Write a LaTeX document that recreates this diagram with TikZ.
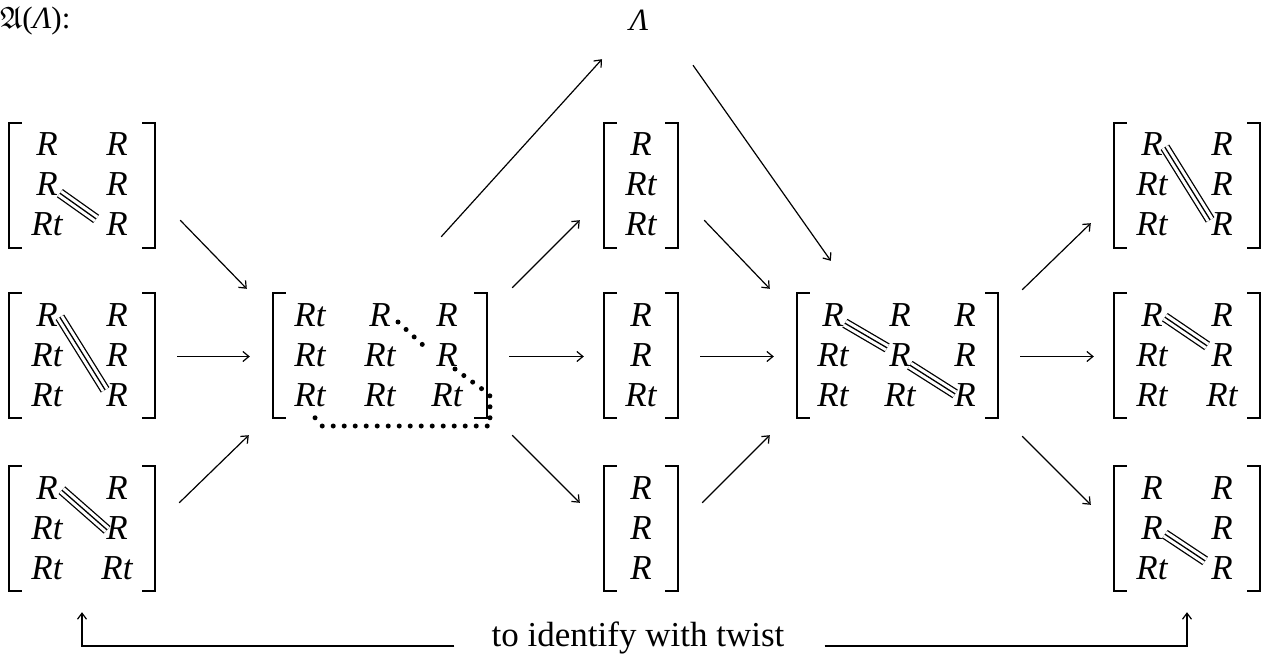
\documentclass[tikz,border=0pt]{standalone}
\usepackage{amssymb}
\usepackage{fontspec}
\setmainfont{Liberation Serif}
\usetikzlibrary{arrows.meta,calc,backgrounds}
\newcommand\entsize{\fontsize{35}{40}\selectfont}
\tikzset{
  ent/.style={inner sep=0pt, anchor=base, font=\entsize\itshape},
  mat/.style={inner sep=0pt, minimum height=125pt, draw=none},
  brk/.style={line width=1.7pt},
  arr/.style={line width=1.2pt, -{Straight Barb[length=6pt,width=10pt,line width=1.2pt]}},
  tripo/.style={line width=1.3pt, double distance=7.5pt},
  tripc/.style={line width=1.3pt},
  dotline/.style={line width=5pt, line cap=round, dash pattern=on 0pt off 11pt},
  twist/.style={line width=1.8pt, -{Straight Barb[length=6pt,width=9pt,line width=1.2pt]}},
}
\newcommand\bracketize[1]{%
  \draw[brk] ([xshift=13pt]#1.north west) -- (#1.north west) -- (#1.south west) -- ([xshift=13pt]#1.south west);
  \draw[brk] ([xshift=-13pt]#1.north east) -- (#1.north east) -- (#1.south east) -- ([xshift=-13pt]#1.south east);}
\newcommand\twocol[9]{%
  \node[mat, minimum width=146pt] (#1) at ({#2+73},{#3+62.5}) {};
  \bracketize{#1}
  \node[ent] (#1-1-1) at ({#2+38},{#3+33}) {#4};
  \node[ent] (#1-1-2) at ({#2+108},{#3+33}) {#5};
  \node[ent] (#1-2-1) at ({#2+38},{#3+73}) {#6};
  \node[ent] (#1-2-2) at ({#2+108},{#3+73}) {#7};
  \node[ent] (#1-3-1) at ({#2+38},{#3+113}) {#8};
  \node[ent] (#1-3-2) at ({#2+108},{#3+113}) {#9};}
\newcommand\onecol[6]{%
  \node[mat, minimum width=74pt] (#1) at ({#2+37},{#3+62.5}) {};
  \bracketize{#1}
  \node[ent] (#1-1-1) at ({#2+37},{#3+33}) {#4};
  \node[ent] (#1-2-1) at ({#2+37},{#3+73}) {#5};
  \node[ent] (#1-3-1) at ({#2+37},{#3+113}) {#6};}
\newcommand\trip[2]{\draw[tripo] #1 -- #2; \draw[tripc] #1 -- #2;}
\begin{document}
\begin{tikzpicture}[x=1pt,y=-1pt]
\useasboundingbox (0,0) rectangle (1270,658);
% title and Lambda
\node[anchor=base west, inner sep=0pt, font=\fontsize{31}{34}\selectfont] (title) at (0,29) {$\mathfrak{A}$(\textit{Λ}):};
\node[anchor=base, inner sep=0pt, font=\fontsize{31}{34}\selectfont\itshape] (L) at (639,31) {Λ};
% left column
\twocol{M1}{9}{123}{R}{R}{R}{R}{Rt}{R}
\twocol{M2}{9}{293}{R}{R}{Rt}{R}{Rt}{R}
\twocol{M3}{9}{466}{R}{R}{Rt}{R}{Rt}{Rt}
% C matrix
\node[mat, minimum width=214pt] (C) at (380,355.5) {};
\bracketize{C}
\node[ent] (C-1-1) at (310,326) {Rt};
\node[ent] (C-1-2) at (380,326) {R};
\node[ent] (C-1-3) at (447,326) {R};
\node[ent] (C-2-1) at (310,366) {Rt};
\node[ent] (C-2-2) at (380,366) {Rt};
\node[ent] (C-2-3) at (447,366) {R};
\node[ent] (C-3-1) at (310,406) {Rt};
\node[ent] (C-3-2) at (380,406) {Rt};
\node[ent] (C-3-3) at (447,406) {Rt};
% middle column
\onecol{P1}{604}{123}{R}{Rt}{Rt}
\onecol{P2}{604}{293}{R}{R}{Rt}
\onecol{P3}{604}{466}{R}{R}{R}
% D matrix
\node[mat, minimum width=201pt] (D) at (897.5,355.5) {};
\bracketize{D}
\node[ent] (D-1-1) at (833,326) {R};
\node[ent] (D-1-2) at (900,326) {R};
\node[ent] (D-1-3) at (965,326) {R};
\node[ent] (D-2-1) at (833,366) {Rt};
\node[ent] (D-2-2) at (900,366) {R};
\node[ent] (D-2-3) at (965,366) {R};
\node[ent] (D-3-1) at (833,406) {Rt};
\node[ent] (D-3-2) at (900,406) {Rt};
\node[ent] (D-3-3) at (965,406) {R};
% right column
\twocol{R1}{1114}{123}{R}{R}{Rt}{R}{Rt}{R}
\twocol{R2}{1114}{293}{R}{R}{Rt}{R}{Rt}{Rt}
\twocol{R3}{1114}{466}{R}{R}{R}{R}{Rt}{R}
% triple lines
\begin{scope}[on background layer]
\trip{([xshift=2pt,yshift=3pt]M1-2-1.south east)}{([xshift=-10pt,yshift=-6pt]M1-3-2.north west)}
\trip{([xshift=2pt,yshift=9pt]M2-1-1.south east)}{([xshift=-1pt,yshift=-7pt]M2-3-2.north west)}
\trip{([xshift=4pt,yshift=9pt]M3-1-1.south east)}{([xshift=1pt,yshift=-14pt]M3-2-2.north west)}
\trip{([xshift=1pt,yshift=3pt]D-1-1.south east)}{([xshift=-2pt,yshift=-5pt]D-2-2.north west)}
\trip{([xshift=-1pt,yshift=1pt]D-2-2.south east)}{([xshift=1pt,yshift=-11pt]D-3-3.north west)}
\trip{([xshift=2pt,yshift=9pt]R1-1-1.south east)}{([xshift=-1pt,yshift=-7pt]R1-3-2.north west)}
\trip{([xshift=2pt,yshift=9pt]R2-1-1.south east)}{([xshift=-4pt,yshift=-3pt]R2-2-2.north west)}
\trip{([xshift=2pt,yshift=5pt]R3-2-1.south east)}{([xshift=-6pt,yshift=-5pt]R3-3-2.north west)}
\end{scope}
% dotted outline in C
\draw[dotline] (398,322) -- (424,346);
\draw[dotline] (455,369) -- (482,389) -- (490,396) -- (490,426) -- (322,426) -- (311,413);
% arrows
\draw[arr] ($(M1.south east)+(25,-28)$) -- ($(C.north west)+(-26,-4)$);
\draw[arr] ($(M2.east)+(22,1)$) -- ($(C.west)+(-23,1)$);
\draw[arr] ($(M3.north east)+(24,37)$) -- ($(C.south west)+(-24,17)$);
\draw[arr] ($(C.north east)+(-46,-56)$) -- ($(L.south)+(-37,28)$);
\draw[arr] ($(L.south)+(54,34)$) -- ($(D.north west)+(34,-32)$);
\draw[arr] ($(C.north east)+(25,-5)$) -- ($(P1.south west)+(-24,-28)$);
\draw[arr] ($(C.east)+(22,1)$) -- ($(P2.west)+(-20,1)$);
\draw[arr] ($(C.south east)+(25,17)$) -- ($(P3.north west)+(-24,37)$);
\draw[arr] ($(P1.south east)+(26,-28)$) -- ($(D.north west)+(-27,-4)$);
\draw[arr] ($(P2.east)+(22,1)$) -- ($(D.west)+(-23,1)$);
\draw[arr] ($(P3.north east)+(24,37)$) -- ($(D.south west)+(-27,17)$);
\draw[arr] ($(D.north east)+(24,-3)$) -- ($(R1.south west)+(-23,-25)$);
\draw[arr] ($(D.east)+(22,1)$) -- ($(R2.west)+(-20,1)$);
\draw[arr] ($(D.south east)+(24,18)$) -- ($(R3.north west)+(-23,39)$);
% twist
\node[anchor=base, inner sep=0pt, font=\fontsize{35}{40}\selectfont] (tw) at (638,646) {to identify with twist};
\draw[twist] ($(tw.base west)+(-37,0)$) -| ($(M3.south)+(0,21)$);
\draw[twist] ($(tw.base east)+(40,0)$) -| ($(R3.south)+(0,21)$);
\end{tikzpicture}
\end{document}
